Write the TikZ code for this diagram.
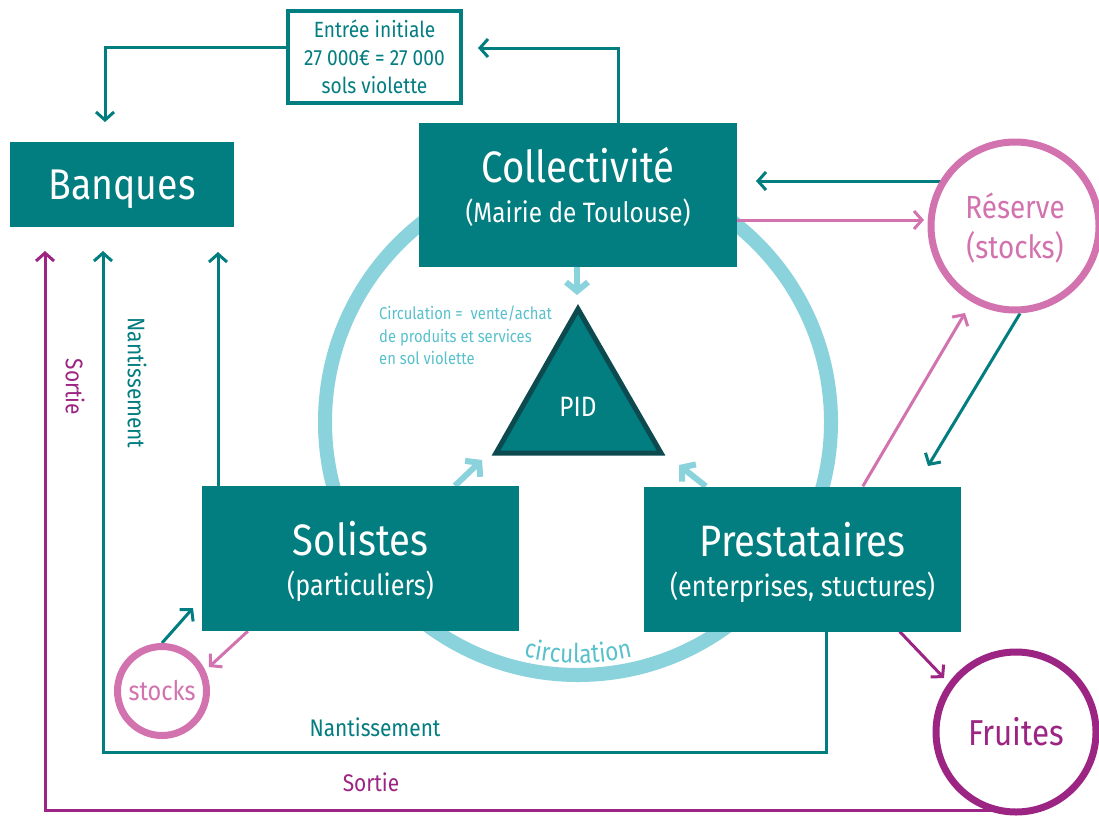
\documentclass[tikz,border=0pt]{standalone}
\usepackage{fontspec}
\setmainfont{Fira Sans}[FakeStretch=0.87]
\usetikzlibrary{arrows.meta,decorations.text,calc}
\pgfdeclarelayer{bg}
\pgfsetlayers{bg,main}
\definecolor{cteal}{RGB}{2,125,128}
\definecolor{cring}{RGB}{138,210,220}
\definecolor{ctext}{RGB}{88,193,204}
\definecolor{cpink}{RGB}{210,114,174}
\definecolor{cpurp}{RGB}{156,36,130}
\definecolor{cdark}{RGB}{12,74,79}
\newcommand\fsz[1]{\fontsize{#1}{#1}\selectfont}
\begin{document}
\begin{tikzpicture}[x=1pt,y=1pt,
  box/.style={fill=cteal, text=white, align=center, inner sep=0pt, font=\fontsize{28}{28}\selectfont},
  ringnode/.style={circle, fill=white, line width=7pt, inner sep=0pt, align=center},
  con/.style={line width=3pt, -{Straight Barb[length=8pt,width=18pt]}},
  lb/.style={line width=6pt, draw=cring, -{Straight Barb[length=9pt,width=22pt]}},
]
\useasboundingbox (0,0) rectangle (1099,-819);

% nodes
\node[box, minimum width=318pt, minimum height=144pt, text depth=20pt] (coll) at (578,-195)
  {{\fsz{44}Collectivité}\\[12pt](Mairie de Toulouse)};
\node[box, minimum width=224pt, minimum height=85pt, text height=30pt, text depth=0pt] (ban) at (122,-184.5) {\fsz{43}Banques};
\node[box, minimum width=317pt, minimum height=145pt, text depth=0pt] (sol) at (360.5,-558.5)
  {{\fsz{44}Solistes}\\[12pt]{\fsz{29}(particuliers)}};
\node[box, minimum width=317pt, minimum height=145pt, text depth=0pt] (pre) at (802.5,-559)
  {{\fsz{44}Prestataires}\\[12pt]{\fsz{29}(enterprises, stuctures)}};
\node[draw=cteal, line width=4pt, fill=white, minimum width=173pt, minimum height=92pt,
  align=center, text=cteal, inner sep=0pt, font=\fontsize{22}{28}\selectfont] (entree) at (374.5,-57)
  {Entrée initiale\\27 000€ = 27 000\\sols violette};

\node[ringnode, draw=cpink, minimum size=168pt, text=cpink, font=\fontsize{32}{40}\selectfont, text depth=0pt] (res) at (1015,-226)
  {Réserve\\(stocks)};
\node[ringnode, draw=cpink, minimum size=89pt, text=cpink] (stk) at (162,-691) {\fsz{27}stocks};
\node[ringnode, draw=cpurp, minimum size=160pt, text=cpurp] (fru) at (1016,-732) {\fsz{36}Fruites};

% triangle PID
\coordinate (T1) at (578,-309);
\coordinate (T2) at (496,-453);
\coordinate (T3) at (661,-453);
\draw[cdark, fill=cteal, line width=5pt] (T1) -- (T2) -- (T3) -- cycle;
\node[text=white] (pid) at (578,-407) {\fsz{28}PID};

\node[text=ctext, align=left, anchor=north west, inner sep=0pt, font=\fontsize{17}{22.5}\selectfont] (circ) at (379,-306)
  {Circulation =\ \ vente/achat\\de produits et services\\en sol violette};

\node[rotate=-90, text=cteal] (nv) at (137,-383) {\fsz{24}Nantissement};
\node[rotate=-90, text=cpurp] (sv) at (75,-387) {\fsz{24}Sortie};
\node[text=cteal] (nh) at (375,-727) {\fsz{24}Nantissement};
\node[text=cpurp] (sh) at (371,-782) {\fsz{24}Sortie};

\begin{pgfonlayer}{bg}
\fill[white] (0,0) rectangle (1099,-819);
\draw[cring, line width=14pt] (578,-422) circle[radius=253];
\path[decorate, decoration={text along path, text align=center, text color=ctext,
   text={|\fsz{26}|circulation}}]
   (578,-422) ++(235:241) arc[start angle=235, end angle=305, radius=241];

% top connectors
\coordinate (a1) at (618,-48);
\coordinate (a2) at (478,-48);
\draw[con, cteal] (coll.north -| a1) -- (a1) -- (a2);
\coordinate (b1) at (105,-47);
\coordinate (b2) at (105,-122);
\draw[con, cteal] (entree.west |- b1) -- (b1) -- (b2);
% Solistes -> Banques
\coordinate (c1) at (218,-252);
\draw[con, cteal] (sol.north -| c1) -- (c1);
% Nantissement loop
\coordinate (d1) at (826,-752);
\coordinate (d2) at (103,-752);
\coordinate (d3) at (103,-251);
\draw[con, cteal] (pre.south -| d1) -- (d1) -- (d2) -- (d3);
% Sortie loop
\coordinate (e1) at (45,-810);
\coordinate (e2) at (45,-251);
\draw[con, cpurp] (fru.center |- e1) -- (e1) -- (e2);
% Reserve <-> Collectivite
\coordinate (f1) at (756,-181);
\draw[con, cteal] (res.center |- f1) -- (f1);
\coordinate (g1) at (924,-220);
\draw[con, cpink] (coll.east |- g1) -- (g1);
% Prestataires <-> Reserve
\coordinate (h1) at (965,-313);
\draw[con, cpink] ($(pre.north west)+(219,0)$) -- (h1);
\coordinate (h2) at (928,-466);
\draw[con, cteal] ($(res.south)+(5,0)$) -- (h2);
% Prestataires -> Fruites
\coordinate (i1) at (944,-678);
\draw[con, cpurp] ($(pre.south west)+(256,0)$) -- (i1);
% stocks <-> Solistes
\coordinate (j1) at (193,-608);
\draw[con, cteal] (stk.north) -- (j1);
\coordinate (k1) at (209,-667);
\draw[con, cpink] ($(sol.south west)+(46,0)$) -- (k1);
% light blue arrows to PID
\coordinate (l1) at (577,-295);
\draw[lb] (coll.south -| l1) -- (l1);
\coordinate (m1) at (482,-460);
\draw[lb] ($(sol.north west)+(253,0)$) -- (m1);
\coordinate (n1) at (679,-465);
\draw[lb] ($(pre.north west)+(62,0)$) -- (n1);
\end{pgfonlayer}
\end{tikzpicture}
\end{document}
